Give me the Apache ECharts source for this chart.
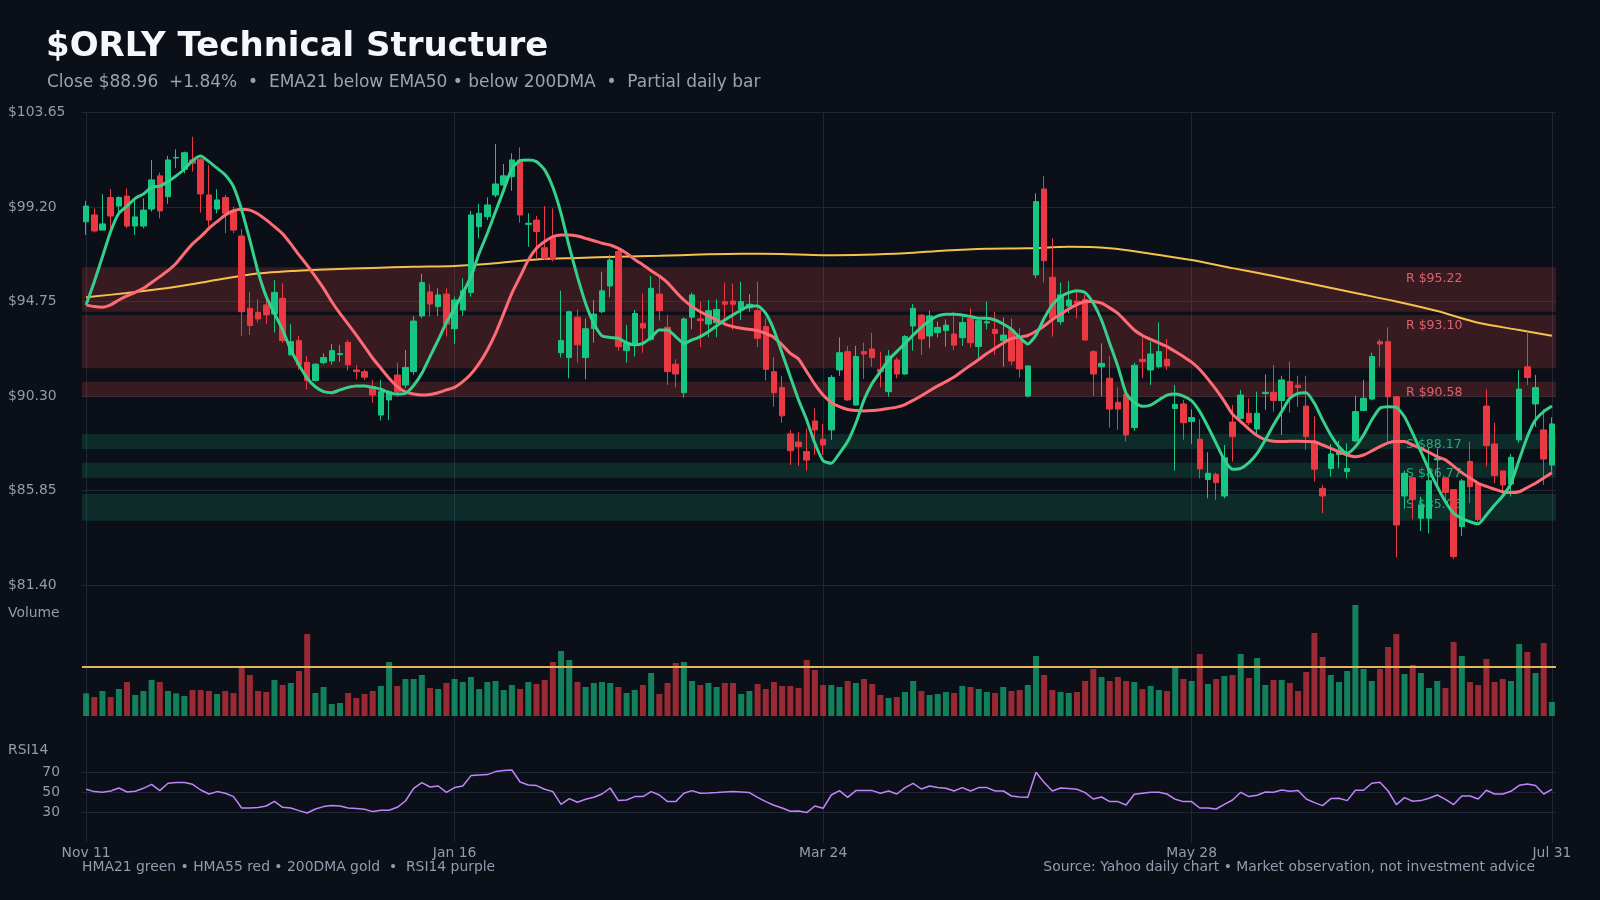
<!DOCTYPE html>
<html>
<head>
<meta charset="utf-8">
<title>$ORLY Technical Structure</title>
<script src="https://cdn.jsdelivr.net/npm/echarts@6/dist/echarts.min.js"></script>
<style>
  html, body { margin: 0; padding: 0; background: #0b0f18; }
  #chart { width: 1600px; height: 900px; }
</style>
</head>
<body>
<div id="chart"></div>
<script>
// ---- data (daily bars, 2024-11-11 .. 2025-07-31) ----
const opens = [
  98.50, 98.82, 98.11, 99.64, 99.24, 99.71, 98.30, 98.30, 99.10, 100.66,
  99.68, 101.50, 100.97, 101.41, 101.44, 99.76, 99.10, 99.64, 98.98, 97.83,
  94.43, 94.24, 94.59, 94.16, 94.90, 92.24, 92.91, 91.89, 91.03, 91.87,
  91.95, 92.25, 92.83, 91.53, 91.45, 90.75, 89.41, 90.12, 91.29, 90.82,
  91.45, 94.07, 95.20, 94.51, 95.10, 93.47, 94.35, 95.17, 98.27, 98.74,
  99.76, 100.23, 100.62, 101.41, 98.38, 98.58, 97.28, 97.75, 92.34, 92.11,
  94.01, 92.11, 93.47, 94.27, 95.48, 97.10, 92.44, 92.78, 93.72, 92.97,
  95.10, 93.54, 91.80, 90.46, 94.01, 93.93, 93.69, 93.75, 94.74, 94.77,
  94.38, 94.45, 94.32, 93.57, 91.45, 90.70, 88.52, 88.14, 87.69, 89.13,
  88.27, 88.71, 91.53, 92.39, 89.88, 92.39, 92.52, 91.56, 90.51, 92.00,
  91.34, 93.60, 94.11, 93.13, 93.28, 93.38, 93.22, 93.05, 93.96, 92.63,
  93.74, 93.44, 92.91, 93.41, 92.97, 90.30, 96.00, 100.04, 95.89, 93.80,
  94.54, 94.77, 94.85, 92.39, 91.68, 91.14, 90.01, 90.38, 88.82, 92.03,
  91.53, 91.68, 92.03, 89.72, 89.93, 89.10, 88.27, 86.38, 86.62, 85.60,
  89.08, 89.25, 89.49, 88.75, 90.42, 90.48, 90.09, 90.98, 90.81, 89.83,
  88.08, 85.96, 86.90, 87.55, 86.75, 88.19, 89.62, 90.16, 92.86, 92.86,
  90.27, 85.60, 86.46, 84.55, 84.55, 87.30, 86.46, 85.90, 84.16, 87.22,
  86.17, 89.83, 88.05, 86.78, 86.17, 88.24, 91.68, 89.93, 88.71, 87.06
];
const closes = [
  99.24, 98.07, 98.40, 98.77, 99.64, 98.30, 98.73, 99.05, 100.47, 99.01,
  101.41, 101.53, 101.75, 101.25, 99.81, 98.58, 99.53, 98.90, 98.11, 94.27,
  93.62, 93.93, 94.12, 95.18, 92.91, 92.86, 91.77, 91.03, 91.80, 92.11,
  92.44, 92.30, 91.77, 91.45, 91.19, 90.35, 90.51, 90.51, 90.51, 91.65,
  93.83, 95.64, 94.63, 95.06, 93.69, 94.82, 95.26, 98.82, 98.90, 99.29,
  100.28, 100.66, 101.41, 98.82, 98.43, 98.04, 96.78, 96.73, 92.91, 94.27,
  92.71, 93.47, 94.16, 95.25, 96.70, 92.63, 92.78, 94.19, 93.50, 95.37,
  94.32, 91.45, 91.34, 93.93, 95.06, 93.85, 94.32, 94.38, 94.62, 94.62,
  94.74, 94.62, 93.02, 91.56, 90.46, 89.37, 87.73, 87.92, 87.29, 88.71,
  88.00, 91.18, 92.34, 90.12, 92.16, 92.28, 92.11, 91.45, 92.19, 91.34,
  93.10, 94.43, 92.99, 94.07, 93.53, 93.64, 92.70, 93.76, 92.81, 93.85,
  93.80, 93.25, 93.17, 91.95, 91.58, 91.72, 99.45, 96.67, 93.96, 95.06,
  94.82, 94.66, 92.94, 91.34, 91.84, 89.69, 89.69, 88.47, 91.75, 91.92,
  92.28, 92.39, 91.72, 89.91, 89.05, 89.29, 86.87, 86.67, 86.23, 87.40,
  88.39, 90.35, 89.05, 89.49, 90.48, 90.09, 91.06, 90.27, 90.71, 88.39,
  86.86, 85.60, 87.58, 87.75, 86.90, 89.57, 90.20, 92.16, 92.75, 90.27,
  84.24, 86.67, 85.44, 85.18, 86.32, 87.36, 85.77, 82.75, 86.31, 86.04,
  84.50, 87.97, 86.56, 86.12, 87.42, 90.63, 91.17, 90.70, 87.34, 88.99
];
const lows = [
  97.88, 97.99, 98.11, 98.04, 98.82, 98.20, 97.88, 98.19, 98.98, 98.66,
  99.34, 101.02, 100.78, 100.86, 98.93, 98.27, 98.90, 97.96, 97.96, 93.14,
  93.18, 93.76, 93.70, 93.29, 92.80, 92.20, 91.53, 90.62, 90.98, 91.80,
  91.77, 91.92, 91.50, 91.09, 91.06, 89.99, 89.15, 89.18, 90.27, 90.67,
  91.30, 93.96, 94.04, 94.07, 93.10, 92.75, 94.07, 94.98, 97.72, 98.58,
  99.65, 100.18, 99.96, 98.46, 97.33, 96.78, 96.70, 96.63, 92.11, 91.14,
  91.87, 91.09, 92.81, 94.20, 94.95, 92.44, 91.87, 92.16, 92.34, 92.90,
  93.85, 90.82, 90.71, 90.23, 93.44, 92.60, 93.07, 93.07, 93.91, 93.41,
  93.88, 94.27, 92.60, 91.03, 89.80, 89.05, 87.06, 87.01, 86.79, 87.53,
  87.53, 88.24, 91.25, 90.08, 89.85, 91.10, 91.68, 90.71, 90.27, 91.14,
  91.30, 92.44, 92.23, 92.55, 93.06, 92.63, 92.47, 92.66, 92.59, 92.08,
  93.44, 92.23, 91.68, 91.76, 91.18, 90.23, 95.84, 95.64, 93.10, 93.65,
  94.20, 93.96, 92.90, 90.31, 90.28, 88.82, 88.71, 88.16, 88.67, 91.14,
  90.82, 91.60, 91.53, 86.79, 88.24, 88.05, 86.43, 85.49, 85.41, 85.49,
  87.22, 89.20, 88.94, 88.39, 89.65, 89.57, 88.47, 89.52, 89.80, 87.77,
  86.28, 84.79, 86.51, 86.90, 86.43, 88.13, 89.60, 90.10, 91.68, 88.08,
  82.72, 85.00, 84.50, 83.95, 83.84, 86.10, 85.33, 82.63, 83.72, 85.26,
  84.39, 86.98, 86.20, 85.49, 85.57, 88.11, 90.82, 88.86, 86.12, 86.75
];
const highs = [
  99.48, 99.13, 99.79, 100.04, 99.70, 100.07, 99.50, 99.60, 101.41, 100.81,
  101.60, 101.91, 101.80, 102.50, 101.50, 101.17, 100.03, 99.76, 99.21, 98.15,
  95.21, 94.85, 94.90, 95.76, 95.61, 93.69, 93.13, 92.19, 91.85, 92.31,
  92.75, 92.71, 92.94, 91.77, 91.56, 91.06, 91.06, 90.59, 91.87, 92.47,
  94.07, 96.05, 95.58, 95.37, 95.37, 94.98, 95.84, 99.01, 99.34, 99.65,
  102.16, 101.22, 101.72, 102.00, 98.90, 98.77, 99.24, 99.13, 95.26, 94.32,
  94.38, 93.96, 94.82, 96.15, 96.94, 97.28, 93.65, 94.35, 95.13, 95.95,
  95.92, 94.12, 92.03, 94.01, 95.17, 94.74, 94.82, 94.85, 95.64, 95.60,
  95.68, 95.10, 95.68, 93.96, 92.13, 91.25, 88.71, 88.61, 88.78, 89.73,
  88.99, 91.29, 93.06, 92.66, 92.66, 92.81, 93.28, 92.39, 92.47, 92.12,
  93.17, 94.63, 94.16, 94.32, 93.80, 93.91, 94.27, 94.04, 94.43, 93.90,
  94.74, 94.27, 94.00, 93.96, 93.49, 91.75, 99.84, 100.66, 97.72, 95.64,
  95.72, 95.21, 95.06, 92.47, 92.78, 92.19, 90.71, 90.71, 91.87, 93.06,
  92.86, 93.77, 92.99, 90.82, 90.12, 89.68, 89.21, 87.66, 86.70, 88.00,
  89.88, 90.59, 90.19, 90.51, 91.32, 91.76, 91.25, 91.92, 91.25, 91.25,
  89.36, 86.12, 88.05, 88.20, 88.08, 90.32, 91.06, 92.34, 92.97, 93.54,
  90.30, 86.80, 86.50, 85.57, 87.89, 87.84, 86.50, 85.90, 86.40, 88.16,
  86.20, 90.62, 89.05, 86.80, 87.58, 91.53, 93.33, 91.29, 89.68, 89.30
];
// volume in millions of shares (no axis labels on the chart)
const volumes = [
  2.27, 1.9, 2.5, 1.9, 2.7, 3.4, 2.1, 2.5, 3.6, 3.4,
  2.5, 2.27, 2.0, 2.6, 2.6, 2.5, 2.2, 2.5, 2.3, 4.87,
  4.1, 2.5, 2.4, 3.6, 3.1, 3.3, 4.5, 8.2, 2.3, 2.9,
  1.2, 1.3, 2.3, 1.8, 2.2, 2.5, 3.0, 5.4, 3.0, 3.7,
  3.7, 4.1, 2.8, 2.7, 3.3, 3.7, 3.4, 3.9, 2.7, 3.4,
  3.5, 2.6, 3.1, 2.7, 3.4, 3.2, 3.6, 5.4, 6.5, 5.6,
  3.4, 2.9, 3.3, 3.4, 3.3, 2.9, 2.3, 2.6, 3.1, 4.3,
  2.2, 3.3, 5.3, 5.4, 3.5, 3.1, 3.3, 2.9, 3.3, 3.3,
  2.2, 2.5, 3.2, 2.7, 3.4, 3.0, 3.0, 2.8, 5.6, 4.6,
  3.1, 3.1, 2.9, 3.5, 3.3, 3.7, 3.2, 2.1, 1.8, 1.9,
  2.4, 3.5, 2.5, 2.1, 2.2, 2.4, 2.3, 3.0, 2.9, 2.7,
  2.4, 2.3, 2.9, 2.5, 2.6, 3.1, 6.0, 4.1, 2.6, 2.4,
  2.3, 2.4, 3.5, 4.7, 3.9, 3.5, 3.9, 3.5, 3.4, 2.7,
  3.0, 2.6, 2.5, 4.8, 3.7, 3.5, 6.2, 3.2, 3.7, 4.0,
  4.1, 6.2, 3.8, 5.8, 3.1, 3.6, 3.6, 3.3, 2.5, 4.4,
  8.3, 5.9, 4.1, 3.4, 4.5, 11.1, 4.7, 3.5, 4.7, 6.9,
  8.2, 4.2, 5.1, 4.3, 2.8, 3.5, 2.8, 7.4, 6.0, 3.4,
  3.1, 5.7, 3.4, 3.7, 3.5, 7.2, 6.4, 4.3, 7.3, 1.4
];
const avgVolume = 4.93;
const hma21 = [
  94.59, 95.68, 96.86, 98.04, 98.90, 99.24, 99.60, 99.81, 100.12, 100.18,
  100.39, 100.66, 100.97, 101.38, 101.60, 101.33, 101.02, 100.70, 100.15, 99.05,
  97.64, 96.15, 94.98, 94.19, 93.41, 92.47, 91.76, 91.14, 90.74, 90.51,
  90.46, 90.59, 90.71, 90.78, 90.78, 90.71, 90.62, 90.46, 90.40, 90.43,
  90.80, 91.37, 92.16, 92.94, 93.76, 94.43, 95.14, 95.92, 97.02, 97.96,
  98.98, 99.99, 101.01, 101.38, 101.41, 101.33, 100.94, 100.12, 98.90, 97.33,
  95.92, 94.66, 93.72, 93.13, 93.06, 93.02, 92.81, 92.71, 92.78, 93.06,
  93.41, 93.41, 93.10, 92.78, 92.94, 93.10, 93.33, 93.60, 93.88, 94.12,
  94.35, 94.54, 94.54, 94.19, 93.41, 92.31, 91.21, 90.12, 89.18, 88.08,
  87.26, 87.14, 87.61, 88.16, 89.02, 90.12, 90.90, 91.45, 92.00, 92.39,
  92.78, 93.17, 93.53, 93.85, 94.07, 94.15, 94.15, 94.12, 94.04, 93.96,
  93.96, 93.88, 93.69, 93.44, 93.06, 92.75, 93.17, 93.96, 94.59, 94.98,
  95.17, 95.26, 95.17, 94.67, 93.88, 92.78, 91.69, 90.43, 90.00, 89.82,
  89.88, 90.12, 90.35, 90.40, 90.30, 90.08, 89.57, 88.86, 88.08, 87.30,
  86.86, 86.90, 87.17, 87.61, 88.24, 88.94, 89.57, 90.20, 90.43, 90.46,
  89.96, 89.18, 88.47, 87.92, 87.61, 87.92, 88.47, 89.18, 89.73, 89.80,
  89.77, 89.33, 88.55, 87.69, 86.83, 86.04, 85.33, 84.79, 84.55, 84.39,
  84.29, 84.71, 85.18, 85.60, 86.20, 87.30, 88.39, 89.18, 89.57, 89.83
];
const hma55 = [
  94.59, 94.51, 94.48, 94.59, 94.82, 95.01, 95.18, 95.37, 95.64, 95.92,
  96.20, 96.55, 97.02, 97.46, 97.80, 98.19, 98.51, 98.82, 99.02, 99.09,
  99.05, 98.87, 98.59, 98.27, 97.93, 97.46, 96.94, 96.45, 95.92, 95.37,
  94.74, 94.19, 93.69, 93.17, 92.63, 92.08, 91.61, 91.14, 90.75, 90.50,
  90.40, 90.35, 90.38, 90.46, 90.59, 90.71, 90.98, 91.34, 91.84, 92.47,
  93.25, 94.19, 95.14, 95.92, 96.70, 97.25, 97.57, 97.80, 97.88, 97.88,
  97.83, 97.72, 97.61, 97.49, 97.41, 97.25, 97.02, 96.73, 96.47, 96.20,
  95.95, 95.64, 95.21, 94.82, 94.51, 94.27, 94.07, 93.88, 93.69, 93.57,
  93.49, 93.44, 93.38, 93.25, 93.06, 92.71, 92.31, 92.05, 91.45, 90.85,
  90.35, 90.00, 89.80, 89.67, 89.62, 89.60, 89.62, 89.66, 89.72, 89.78,
  89.90, 90.10, 90.32, 90.55, 90.78, 90.98, 91.20, 91.48, 91.75, 92.02,
  92.30, 92.55, 92.80, 93.00, 93.08, 93.15, 93.35, 93.60, 93.90, 94.15,
  94.40, 94.60, 94.75, 94.75, 94.67, 94.45, 94.19, 93.80, 93.41, 93.15,
  92.97, 92.80, 92.63, 92.40, 92.16, 91.90, 91.55, 91.10, 90.60, 90.05,
  89.45, 89.10, 88.75, 88.45, 88.25, 88.18, 88.16, 88.18, 88.18, 88.17,
  88.15, 88.00, 87.84, 87.68, 87.53, 87.45, 87.53, 87.72, 87.92, 88.10,
  88.16, 88.16, 88.00, 87.84, 87.65, 87.45, 87.30, 87.00, 86.70, 86.45,
  86.20, 86.05, 85.92, 85.80, 85.76, 85.80, 86.00, 86.20, 86.45, 86.70
];
// 200-day moving average, sampled along the gold curve
const dmaIdx = [0, 5, 10, 15, 20, 25, 30, 35, 40, 45, 50, 55, 60, 65, 70, 75, 80, 85, 90,
  95, 100, 105, 110, 115, 120, 125, 130, 135, 140, 145, 150, 155, 160, 165, 170, 175, 179];
const dmaVal = [94.95, 95.15, 95.38, 95.70, 96.02, 96.18, 96.27, 96.33, 96.38, 96.42, 96.55,
  96.73, 96.80, 96.86, 96.90, 96.96, 97.00, 96.98, 96.93, 96.95, 97.02, 97.15, 97.23, 97.25,
  97.32, 97.25, 97.00, 96.70, 96.32, 95.95, 95.55, 95.15, 94.75, 94.30, 93.75, 93.41, 93.14];
const rsi14 = [
  53, 50.7, 50, 51.3, 54.3, 50.3, 51, 54, 58, 51.7,
  59, 59.7, 59.7, 58, 52.3, 48.3, 50.7, 49, 45.7, 34.3,
  34.3, 34.7, 36.3, 41, 35, 34.3, 31.7, 29.3, 33.3, 35.7,
  36.7, 36.3, 34.3, 33.7, 33, 30.7, 32, 32, 35, 41.3,
  54, 59.7, 55.3, 56.3, 50, 54.7, 56.3, 66.7, 67.3, 67.7,
  70.7, 71.7, 72.3, 60.3, 57.3, 56.7, 53, 50.7, 38, 43.7,
  40, 43, 45, 48.3, 54.3, 41.7, 42.3, 45.7, 45.7, 50.7,
  47.3, 40.7, 40.7, 49, 51.7, 49, 49.3, 49.7, 50.3, 50.7,
  50.3, 49.7, 45, 40.7, 37, 34.3, 31, 31.3, 29.7, 36.3,
  34, 47.3, 51.7, 45, 51.7, 51.7, 51.7, 49, 51.3, 48.3,
  54.7, 59, 53.3, 56.3, 54.7, 54, 51.3, 54.7, 51.3, 54.7,
  54.7, 51.3, 51.3, 46.3, 45.3, 45, 70, 59.7, 51.3, 54.3,
  53.7, 53, 49.7, 43.3, 45.3, 40.7, 40.7, 37.3, 48, 49,
  50, 50, 48.3, 43, 40.7, 40.7, 34.3, 34.3, 33.3, 38,
  42.3, 50, 45.7, 47, 50.3, 50, 52.3, 51, 51.7, 43.3,
  39.7, 36.7, 43.7, 44, 41.7, 52, 52, 59, 60, 51.3,
  37.7, 44.7, 41, 41.7, 44, 47.3, 43, 37.7, 46.3, 46.3,
  43.3, 52, 48.3, 48.3, 51, 57, 58.3, 56.7, 48.3, 53
];
// support / resistance zones
const zoneNames = ['R $95.22', 'R $93.10', 'R $90.58', 'S $88.17', 'S $86.77', 'S $85.06'];
const zoneLow = [94.27, 91.61, 90.27, 87.81, 86.46, 84.44];
const zoneHigh = [96.36, 94.12, 90.98, 88.52, 87.17, 85.70];
// axis ticks
const priceTicks = ['$81.40', '$85.85', '$90.30', '$94.75', '$99.20', '$103.65'];
const dateTickIdx = [0, 45, 90, 135, 179];
const dateTickLabels = ['Nov 11', 'Jan 16', 'Mar 24', 'May 28', 'Jul 31'];

// trading-day categories
const holidays = ['2024-11-28', '2024-12-25', '2025-01-01', '2025-01-20', '2025-02-17',
  '2025-04-18', '2025-05-26', '2025-06-19', '2025-07-04'];
const dates = [];
for (let d = new Date(Date.UTC(2024, 10, 11)); dates.length < opens.length; d.setUTCDate(d.getUTCDate() + 1)) {
  const s = d.toISOString().slice(0, 10);
  const wd = d.getUTCDay();
  if (wd !== 0 && wd !== 6 && !holidays.includes(s)) dates.push(s);
}

const BG = '#0b0f18';
const GRID = '#1f2736';
const TXT = '#939cac';
const UP = '#16c784';
const DOWN = '#ea3943';
const FONT = 'DejaVu Sans';

const candleData = opens.map((o, i) => [o, closes[i], lows[i], highs[i]]);
const volData = volumes.map((v, i) => ({
  value: v,
  itemStyle: { color: closes[i] >= opens[i] ? 'rgba(22,199,132,0.62)' : 'rgba(234,57,67,0.64)' }
}));
const zoneData = zoneNames.map((n, i) => {
  const res = n[0] === 'R';
  return [
    {
      name: n,
      yAxis: zoneLow[i],
      itemStyle: { color: res ? 'rgba(239,68,68,0.2)' : 'rgba(16,185,129,0.17)' },
      label: { color: res ? '#d9646e' : '#2aa878' }
    },
    { yAxis: zoneHigh[i] }
  ];
});

const chart = echarts.init(document.getElementById('chart'));
const L = 82, W = 1474;

const option = {
  backgroundColor: BG,
  animation: false,
  textStyle: { fontFamily: FONT },
  title: [
    { text: '$ORLY Technical Structure', left: 46, top: 30, padding: 0,
      textStyle: { color: '#f5f7fa', fontSize: 34, fontWeight: 'bold', fontFamily: FONT, lineHeight: 34 } },
    { text: 'Close $88.96  +1.84%  \u2022  EMA21 below EMA50 \u2022 below 200DMA  \u2022  Partial daily bar',
      left: 47, top: 74.5, padding: 0,
      textStyle: { color: '#9aa3b2', fontSize: 17, fontWeight: 'normal', fontFamily: FONT, lineHeight: 17 } },
    { text: 'Volume', left: 8, top: 606, padding: 0,
      textStyle: { color: TXT, fontSize: 13.9, fontWeight: 'normal', fontFamily: FONT, lineHeight: 14 } },
    { text: 'RSI14', left: 8, top: 743, padding: 0,
      textStyle: { color: TXT, fontSize: 13.9, fontWeight: 'normal', fontFamily: FONT, lineHeight: 14 } },
    { text: 'HMA21 green \u2022 HMA55 red \u2022 200DMA gold  \u2022  RSI14 purple', left: 82, top: 860, padding: 0,
      textStyle: { color: TXT, fontSize: 13.9, fontWeight: 'normal', fontFamily: FONT, lineHeight: 14 } },
    { text: 'Source: Yahoo daily chart \u2022 Market observation, not investment advice', right: 65, top: 860, padding: 0,
      textStyle: { color: TXT, fontSize: 13.9, fontWeight: 'normal', fontFamily: FONT, lineHeight: 14 } }
  ],
  grid: [
    { left: L, width: W, top: 112.3, height: 473 },     // price
    { left: L, width: W, top: 585.3, height: 157 },     // volume
    { left: L, width: W, top: 742.3, height: 100 },     // rsi
    { left: L, width: W, top: 112.3, height: 730 }      // date grid lines
  ],
  xAxis: [
    { type: 'category', gridIndex: 0, data: dates, boundaryGap: true,
      axisLine: { show: false }, axisTick: { show: false }, axisLabel: { show: false }, splitLine: { show: false } },
    { type: 'category', gridIndex: 1, data: dates, boundaryGap: true,
      axisLine: { show: false }, axisTick: { show: false }, axisLabel: { show: false }, splitLine: { show: false } },
    { type: 'category', gridIndex: 2, data: dates, boundaryGap: true,
      axisLine: { show: false }, axisTick: { show: false }, splitLine: { show: false },
      axisLabel: {
        color: TXT, fontSize: 13.9, fontFamily: FONT, margin: 4, hideOverlap: false,
        interval: (idx) => dateTickIdx.includes(idx),
        formatter: (val, idx) => dateTickLabels[dateTickIdx.indexOf(idx)] || ''
      } },
    { type: 'category', gridIndex: 3, boundaryGap: false,
      data: Array.from({ length: dates.length * 2 + 1 }, (_, k) => k),
      axisLine: { show: false }, axisTick: { show: false }, axisLabel: { show: false },
      splitLine: { show: true, lineStyle: { color: GRID, width: 1 },
        interval: (idx) => idx % 2 === 1 && dateTickIdx.includes((idx - 1) / 2) } }
  ],
  yAxis: [
    { type: 'value', gridIndex: 0, min: 81.4, max: 103.65, show: false },
    { type: 'value', gridIndex: 0, min: 0, max: 5, interval: 1, position: 'left',
      axisLine: { show: false }, axisTick: { show: false },
      axisLabel: { color: TXT, fontSize: 13.9, fontFamily: FONT, align: 'left', margin: L - 8,
        formatter: (v) => priceTicks[v] },
      splitLine: { show: true, lineStyle: { color: GRID, width: 1 } } },
    { type: 'value', gridIndex: 1, min: -2.63, max: 13.07, show: false },
    { type: 'value', gridIndex: 2, min: 0, max: 100, interval: 10,
      axisLine: { show: false }, axisTick: { show: false },
      axisLabel: { color: TXT, fontSize: 13.9, fontFamily: FONT, margin: 22,
        formatter: (v) => (v === 30 || v === 50 || v === 70) ? String(v) : '' },
      splitLine: { show: true, lineStyle: { width: 1,
        color: ['rgba(0,0,0,0)', 'rgba(0,0,0,0)', 'rgba(0,0,0,0)', GRID, 'rgba(0,0,0,0)', GRID,
                'rgba(0,0,0,0)', GRID, 'rgba(0,0,0,0)', 'rgba(0,0,0,0)', 'rgba(0,0,0,0)'] } } },
    { type: 'value', gridIndex: 3, min: 0, max: 1, show: false }
  ],
  series: [
    {
      name: '200DMA', type: 'line', xAxisIndex: 0, yAxisIndex: 0,
      data: dmaIdx.map((x, i) => [x, dmaVal[i]]),
      smooth: 0.3, symbol: 'none', z: 3,
      lineStyle: { color: '#f6c14b', width: 2 },
      markArea: {
        silent: true,
        label: { show: true, position: [1324, 11], verticalAlign: 'middle', align: 'left',
          fontSize: 12.5, fontFamily: FONT, formatter: '{b}' },
        data: zoneData
      }
    },
    {
      name: 'Price', type: 'candlestick', xAxisIndex: 0, yAxisIndex: 0,
      data: candleData, barWidth: 6, z: 4,
      itemStyle: { color: UP, color0: DOWN, borderColor: UP, borderColor0: DOWN, borderWidth: 1 }
    },
    {
      name: 'HMA55', type: 'line', xAxisIndex: 0, yAxisIndex: 0,
      data: hma55, symbol: 'none', smooth: 0.2, z: 5,
      lineStyle: { color: '#ff6b75', width: 3 }
    },
    {
      name: 'HMA21', type: 'line', xAxisIndex: 0, yAxisIndex: 0,
      data: hma21, symbol: 'none', smooth: 0.2, z: 6,
      lineStyle: { color: '#34d08c', width: 3 }
    },
    {
      name: 'Volume', type: 'bar', xAxisIndex: 1, yAxisIndex: 2,
      data: volData, barWidth: 6,
      markLine: {
        silent: true, symbol: 'none', label: { show: false },
        lineStyle: { color: '#e2b45c', width: 2, type: 'solid' },
        data: [{ yAxis: avgVolume }]
      }
    },
    {
      name: 'RSI14', type: 'line', xAxisIndex: 2, yAxisIndex: 3,
      data: rsi14, symbol: 'none',
      lineStyle: { color: '#c084fc', width: 1.5 }
    }
  ]
};

chart.setOption(option);
</script>
</body>
</html>
